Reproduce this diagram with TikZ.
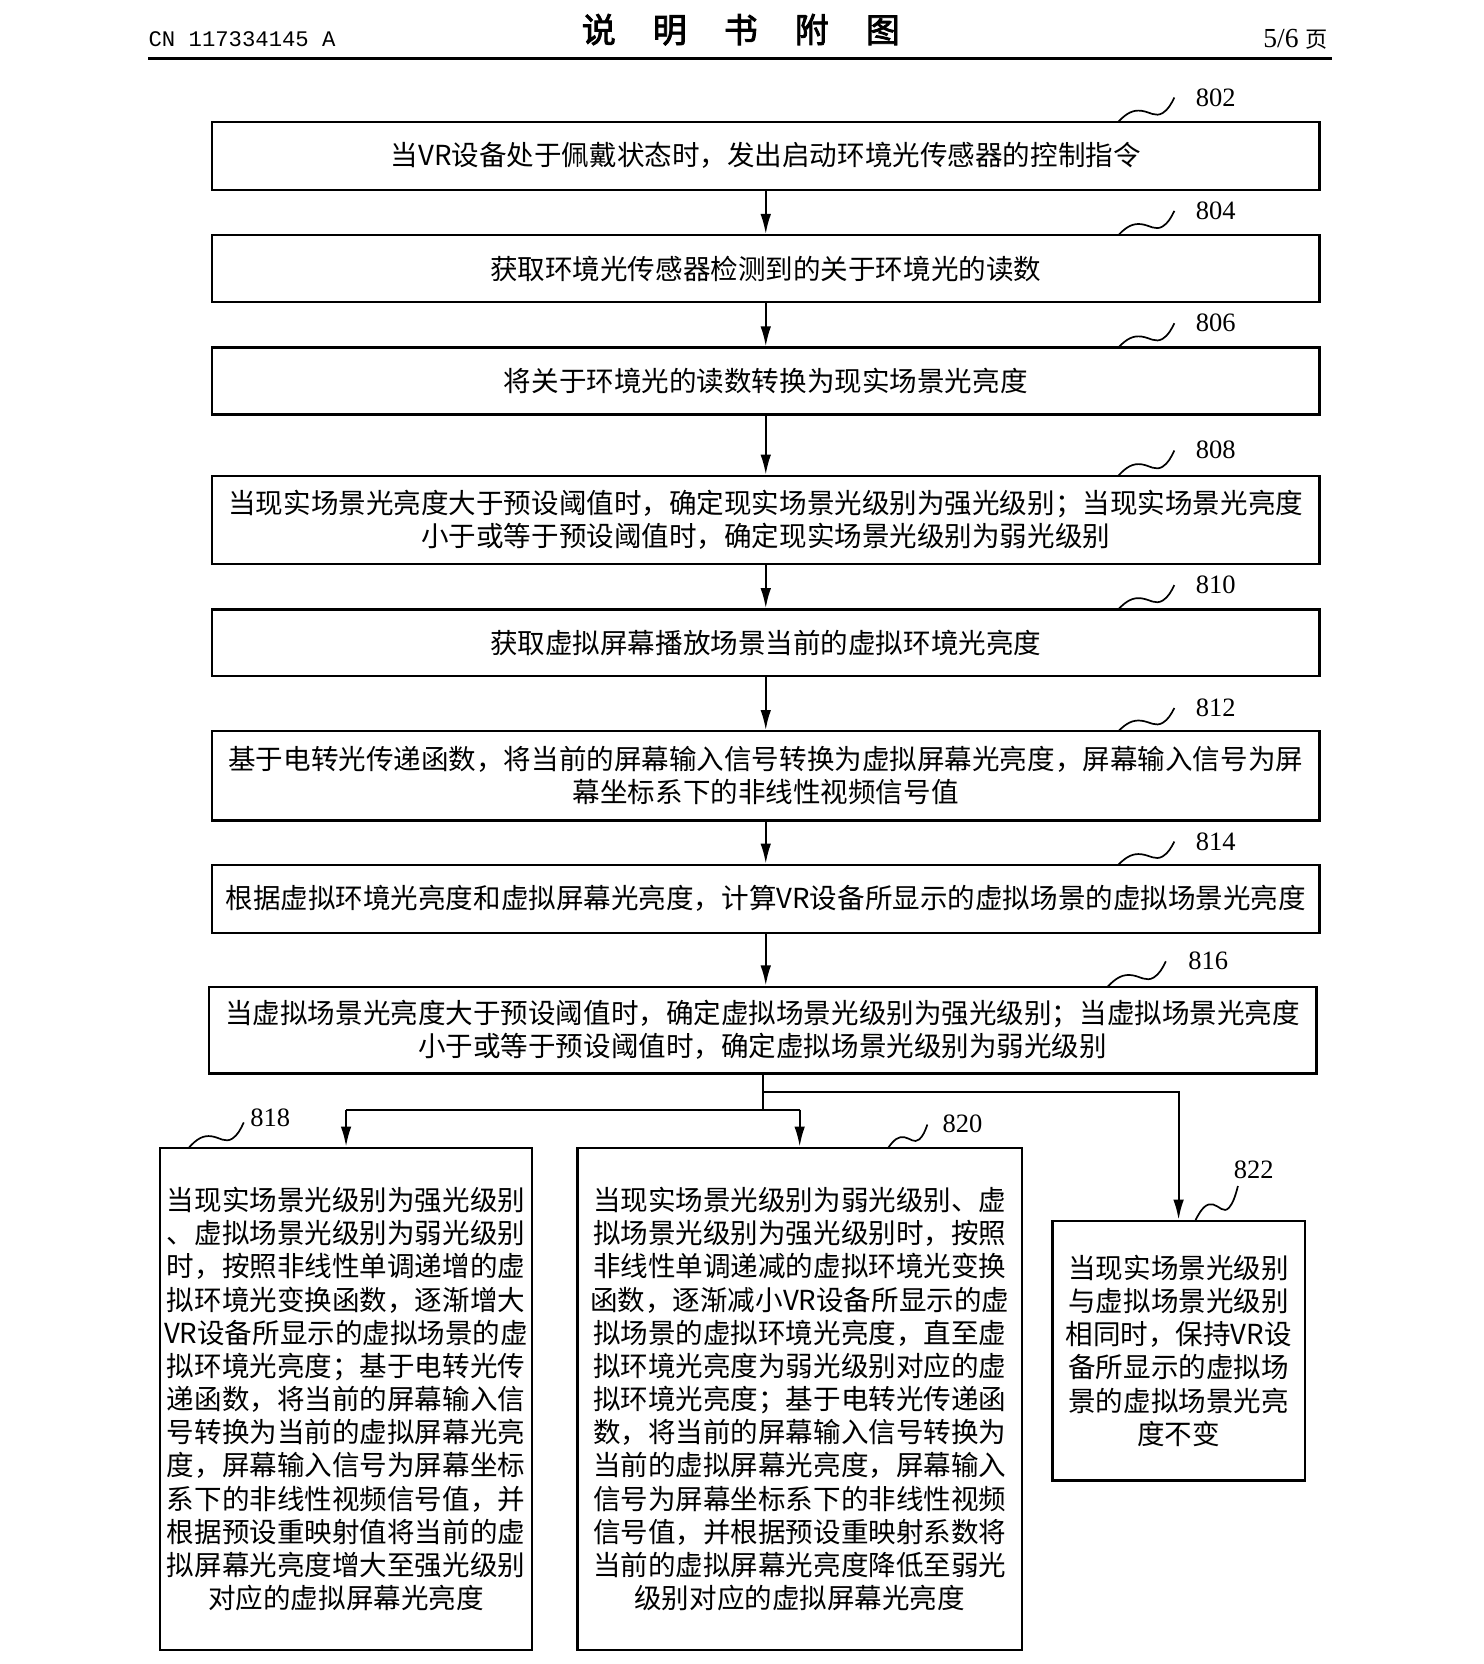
\documentclass[tikz,border=0pt]{standalone}
\usepackage{fontspec}
\setmainfont{Liberation Serif}
\newfontfamily\cjk{Noto Sans CJK SC}
\newfontfamily\cjkbold[FakeBold=2.5]{Noto Sans CJK SC}
\newfontfamily\hdr{Liberation Mono}
\usetikzlibrary{arrows.meta}
\newcommand\squigline[4]{%
  \draw[line width=1.6pt,shift={(#1,#2)},xscale=#3/53,yscale=#4/22]
    (0,0) .. controls (8,-8) and (14,-11) .. (22,-10)
          .. controls (30,-9) and (35,-4) .. (42,-8)
          .. controls (47,-11) and (50,-16) .. (53,-22);}
\begin{document}
\begin{tikzpicture}[x=1pt,y=-1pt,
  box/.style={draw,line width=2.2pt,rectangle,inner sep=0pt,align=center,
    font=\cjk\fontsize{26pt}{31.3pt}\selectfont},
  lbl/.style={font=\fontsize{25pt}{25pt}\selectfont,inner sep=0pt},
  arr/.style={line width=2pt,-{Latex[length=19pt,width=10pt]}},
  ln/.style={line width=2pt}]
\useasboundingbox (0,0) rectangle (1400,1570);
% header
\node[anchor=west,font=\hdr\fontsize{21pt}{21pt}\selectfont,inner sep=0pt] (hl) at (140,37) {CN 117334145 A};
\node[font=\cjkbold\fontsize{32pt}{32pt}\selectfont,inner sep=0pt] (ht) at (699,28) {说\hspace{35pt}明\hspace{35pt}书\hspace{35pt}附\hspace{35pt}图};
\node[anchor=east,font=\fontsize{26pt}{26pt}\selectfont,inner sep=0pt] (hr) at (1253,37) {5/6 {\cjk\fontsize{21pt}{21pt}\selectfont 页}};
\coordinate (r1) at (140,55); \coordinate (r2) at (1257,55);
\draw[line width=3pt] (r1) -- (r2);
% main boxes
\node[box,minimum width=1045pt,minimum height=64pt] (b802) at (722.5,147) {当VR设备处于佩戴状态时，发出启动环境光传感器的控制指令};
\node[box,minimum width=1045pt,minimum height=63pt] (b804) at (722.5,253.5) {获取环境光传感器检测到的关于环境光的读数};
\node[box,minimum width=1045pt,minimum height=63pt] (b806) at (722.5,359.5) {将关于环境光的读数转换为现实场景光亮度};
\node[box,minimum width=1045pt,minimum height=83pt] (b808) at (722.5,490.5) {当现实场景光亮度大于预设阈值时，确定现实场景光级别为强光级别；当现实场景光亮度\\小于或等于预设阈值时，确定现实场景光级别为弱光级别};
\node[box,minimum width=1045pt,minimum height=63pt] (b810) at (722.5,606.5) {获取虚拟屏幕播放场景当前的虚拟环境光亮度};
\node[box,minimum width=1045pt,minimum height=84pt] (b812) at (722.5,732) {基于电转光传递函数，将当前的屏幕输入信号转换为虚拟屏幕光亮度，屏幕输入信号为屏\\幕坐标系下的非线性视频信号值};
\node[box,minimum width=1045pt,minimum height=64pt] (b814) at (722.5,848) {根据虚拟环境光亮度和虚拟屏幕光亮度，计算VR设备所显示的虚拟场景的虚拟场景光亮度};
\node[box,minimum width=1045pt,minimum height=82pt] (b816) at (719.5,972) {当虚拟场景光亮度大于预设阈值时，确定虚拟场景光级别为强光级别；当虚拟场景光亮度\\小于或等于预设阈值时，确定虚拟场景光级别为弱光级别};
% bottom boxes
\node[box,minimum width=351pt,minimum height=474pt] (b818) at (326.5,1320) {当现实场景光级别为强光级别\\、虚拟场景光级别为弱光级别\\时，按照非线性单调递增的虚\\拟环境光变换函数，逐渐增大\\VR设备所显示的虚拟场景的虚\\拟环境光亮度；基于电转光传\\递函数，将当前的屏幕输入信\\号转换为当前的虚拟屏幕光亮\\度，屏幕输入信号为屏幕坐标\\系下的非线性视频信号值，并\\根据预设重映射值将当前的虚\\拟屏幕光亮度增大至强光级别\\对应的虚拟屏幕光亮度};
\node[box,minimum width=419pt,minimum height=474pt] (b820) at (754.5,1320) {当现实场景光级别为弱光级别、虚\\拟场景光级别为强光级别时，按照\\非线性单调递减的虚拟环境光变换\\函数，逐渐减小VR设备所显示的虚\\拟场景的虚拟环境光亮度，直至虚\\拟环境光亮度为弱光级别对应的虚\\拟环境光亮度；基于电转光传递函\\数，将当前的屏幕输入信号转换为\\当前的虚拟屏幕光亮度，屏幕输入\\信号为屏幕坐标系下的非线性视频\\信号值，并根据预设重映射系数将\\当前的虚拟屏幕光亮度降低至弱光\\级别对应的虚拟屏幕光亮度};
\node[box,minimum width=238pt,minimum height=245pt] (b822) at (1112,1274.5) {当现实场景光级别\\与虚拟场景光级别\\相同时，保持VR设\\备所显示的虚拟场\\景的虚拟场景光亮\\度不变};
% arrows
\draw[arr] (b802.south) -- (b804.north);
\draw[arr] (b804.south) -- (b806.north);
\draw[arr] (b806.south) -- (b808.north);
\draw[arr] (b808.south) -- (b810.north);
\draw[arr] (b810.south) -- (b812.north);
\draw[arr] (b812.south) -- (b814.north);
\draw[arr] (b814.south) -- (b814.south |- b816.north);
% branching
\coordinate (j1) at (719.5,1030);
\coordinate (j2) at (719.5,1047);
\coordinate (jl) at (326.5,1047);
\coordinate (jr) at (754.5,1047);
\draw[ln] (b816.south) -- (j2);
\draw[arr] (j1) -| (b822.north);
\draw[ln] (jl) -- (jr);
\draw[arr] (jl) -- (b818.north);
\draw[arr] (jr) -- (b820.north);
% labels
\node[lbl] (l802) at (1147,92) {802};
\node[lbl] (l804) at (1147,199) {804};
\node[lbl] (l806) at (1147,305) {806};
\node[lbl] (l808) at (1147,424) {808};
\node[lbl] (l810) at (1147,552) {810};
\node[lbl] (l812) at (1147,668) {812};
\node[lbl] (l814) at (1147,794) {814};
\node[lbl] (l816) at (1140,907) {816};
\node[lbl] (l818) at (255,1055) {818};
\node[lbl] (l820) at (908,1060) {820};
\node[lbl] (l822) at (1183,1104) {822};
\squigline{1055}{115}{53}{23}
\squigline{1055}{222}{53}{23}
\squigline{1055}{328}{53}{23}
\squigline{1055}{449}{53}{24}
\squigline{1055}{575}{53}{23}
\squigline{1055}{690}{53}{22}
\squigline{1055}{816}{53}{22}
\squigline{1045}{931}{55}{24}
\squigline{178}{1083}{52}{24}
\squigline{838}{1083}{37}{22}
\squigline{1128}{1151}{40}{32}
\end{tikzpicture}
\end{document}
